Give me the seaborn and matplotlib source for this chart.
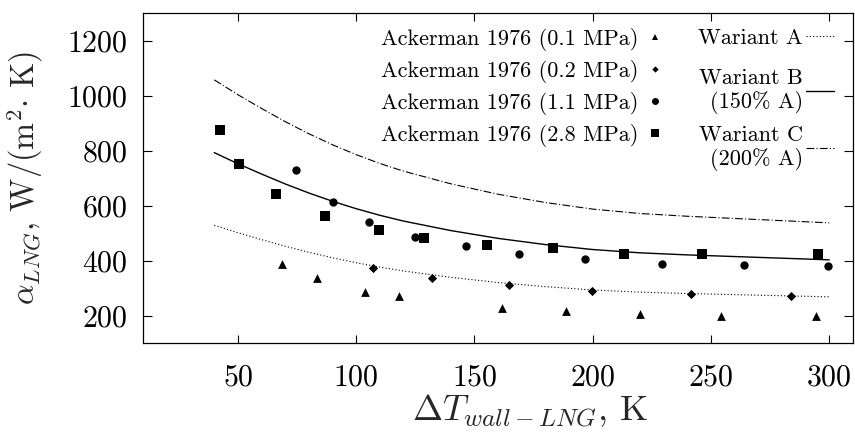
import matplotlib
matplotlib.use("Agg")
import matplotlib.pyplot as plt
from matplotlib.lines import Line2D
import numpy as np
import pandas as pd
import seaborn as sns

# Ackerman (1976) measurements, one series per pressure
dt_01 = [68.6, 83.5, 103.9, 118.2, 161.8, 188.6, 219.8, 254.1, 294.3]
alpha_01 = [390, 338, 287, 271, 230, 218, 206, 199, 198]
dt_02 = [107.0, 131.9, 164.6, 199.8, 241.4, 283.8]
alpha_02 = [375, 339, 311, 290, 280, 271]
dt_11 = [74.6, 90.4, 105.6, 125.0, 146.4, 168.9, 196.6, 229.1, 263.8, 299.4]
alpha_11 = [731, 613, 541, 486, 454, 424, 407, 388, 384, 381]
dt_28 = [42.3, 50.3, 65.9, 86.7, 109.8, 128.8, 155.5, 183.2, 213.3, 246.2, 295.4]
alpha_28 = [877, 753, 644, 563, 513, 484, 459, 445, 423, 423, 423]

series_labels = ["Ackerman 1976 (0.1 MPa)", "Ackerman 1976 (0.2 MPa)",
                 "Ackerman 1976 (1.1 MPa)", "Ackerman 1976 (2.8 MPa)"]

# Model curve, variant A; B and C are 150 % and 200 % of A
dt_model = [40, 50, 60, 70, 80, 90, 100, 110, 120, 140, 160, 180, 200,
            220, 240, 260, 280, 300]
alpha_a = [529, 502, 477, 453, 431, 411, 393, 377, 363, 340, 321, 306, 294,
           286, 281, 277, 273, 269]
factor_b = 1.5
factor_c = 2.0
variant_labels = ["Wariant A", "Wariant B\n(150% A)", "Wariant C\n(200% A)"]

x_ticks = [50, 100, 150, 200, 250, 300]
y_ticks = [200, 400, 600, 800, 1000, 1200]

sns.set_theme(style="ticks")
plt.rcParams.update({
    "font.family": "serif",
    "font.serif": ["cmr10"],
    "mathtext.fontset": "cm",
    "axes.formatter.use_mathtext": True,
    "axes.edgecolor": "black",
    "axes.linewidth": 0.9,
    "xtick.color": "black",
    "ytick.color": "black",
    "text.color": "black",
})

points = pd.concat([
    pd.DataFrame({"dt": dt_01, "alpha": alpha_01, "series": series_labels[0]}),
    pd.DataFrame({"dt": dt_02, "alpha": alpha_02, "series": series_labels[1]}),
    pd.DataFrame({"dt": dt_11, "alpha": alpha_11, "series": series_labels[2]}),
    pd.DataFrame({"dt": dt_28, "alpha": alpha_28, "series": series_labels[3]}),
], ignore_index=True)

model = pd.concat([
    pd.DataFrame({"dt": dt_model, "alpha": alpha_a, "variant": "A"}),
    pd.DataFrame({"dt": dt_model, "alpha": np.array(alpha_a) * factor_b, "variant": "B"}),
    pd.DataFrame({"dt": dt_model, "alpha": np.array(alpha_a) * factor_c, "variant": "C"}),
], ignore_index=True)

fig = plt.figure(figsize=(8.55, 4.32), dpi=100)
ax = fig.add_axes([0.1676, 0.2053, 0.830, 0.7639])

dash_a = (1, 2)
dash_c = (7, 2, 1, 2)
line_widths = {"A": 0.8, "B": 1.0, "C": 0.8}
line_dashes = {"A": dash_a, "B": (None, None), "C": dash_c}
for key in ["A", "B", "C"]:
    sns.lineplot(data=model[model["variant"] == key], x="dt", y="alpha",
                 color="black", linewidth=line_widths[key], ax=ax,
                 estimator=None, legend=False, dashes=line_dashes[key])

marker_style = {series_labels[0]: ("^", 40), series_labels[1]: ("D", 22),
                series_labels[2]: ("o", 36), series_labels[3]: ("s", 42)}
for lab in series_labels:
    mk, size = marker_style[lab]
    sns.scatterplot(data=points[points["series"] == lab], x="dt", y="alpha",
                    marker=mk, s=size, color="black", linewidth=0, ax=ax,
                    legend=False, zorder=3)

ax.set_xlim(10, 310)
ax.set_ylim(100, 1300)
ax.set_xticks(x_ticks)
ax.set_yticks(y_ticks)
ax.tick_params(axis="both", direction="in", top=True, right=True,
               labelsize=21.5, width=0.8)
ax.tick_params(axis="x", length=5.5, pad=15)
ax.tick_params(axis="y", length=6.5, pad=11)

ax.set_xlabel(r"$\Delta T_{wall-LNG}$, K", fontsize=26)
ax.set_ylabel(r"$\alpha_{LNG}$, W/(m$^2$$\cdot$ K)", fontsize=23.3)
ax.xaxis.set_label_coords(0.545, -0.148)
ax.yaxis.set_label_coords(-0.138, 0.5)

legend_kw = dict(loc="upper right", bbox_transform=fig.transFigure,
                 markerfirst=False, frameon=False, fontsize=16,
                 handletextpad=0.15, borderpad=0, borderaxespad=0)

# Legend: measurement markers
marker_handles = [
    Line2D([], [], ls="none", marker="^", ms=4.2, color="black", mew=0),
    Line2D([], [], ls="none", marker="D", ms=3.2, color="black", mew=0),
    Line2D([], [], ls="none", marker="o", ms=5.0, color="black", mew=0),
    Line2D([], [], ls="none", marker="s", ms=6.0, color="black", mew=0),
]
leg1 = ax.legend(marker_handles, series_labels,
                 bbox_to_anchor=(668 / 855, 1 - 28 / 432),
                 handlelength=1.2, labelspacing=0.4, **legend_kw)
ax.add_artist(leg1)

# Legend: model variants
handle_a = [Line2D([], [], color="black", lw=0.8, ls=(0, dash_a))]
leg2 = ax.legend(handle_a, variant_labels[:1],
                 bbox_to_anchor=(834 / 855, 1 - 28 / 432),
                 handlelength=1.25, **legend_kw)
ax.add_artist(leg2)

handles_bc = [
    Line2D([], [], color="black", lw=1.0, ls="-"),
    Line2D([], [], color="black", lw=0.8, ls=(0, dash_c)),
]
leg3 = ax.legend(handles_bc, variant_labels[1:],
                 bbox_to_anchor=(834 / 855, 1 - 68 / 432),
                 handlelength=1.25, labelspacing=0.5, **legend_kw)
for t in leg3.get_texts():
    t.set_multialignment("right")

fig.savefig("out.png", dpi=100)
